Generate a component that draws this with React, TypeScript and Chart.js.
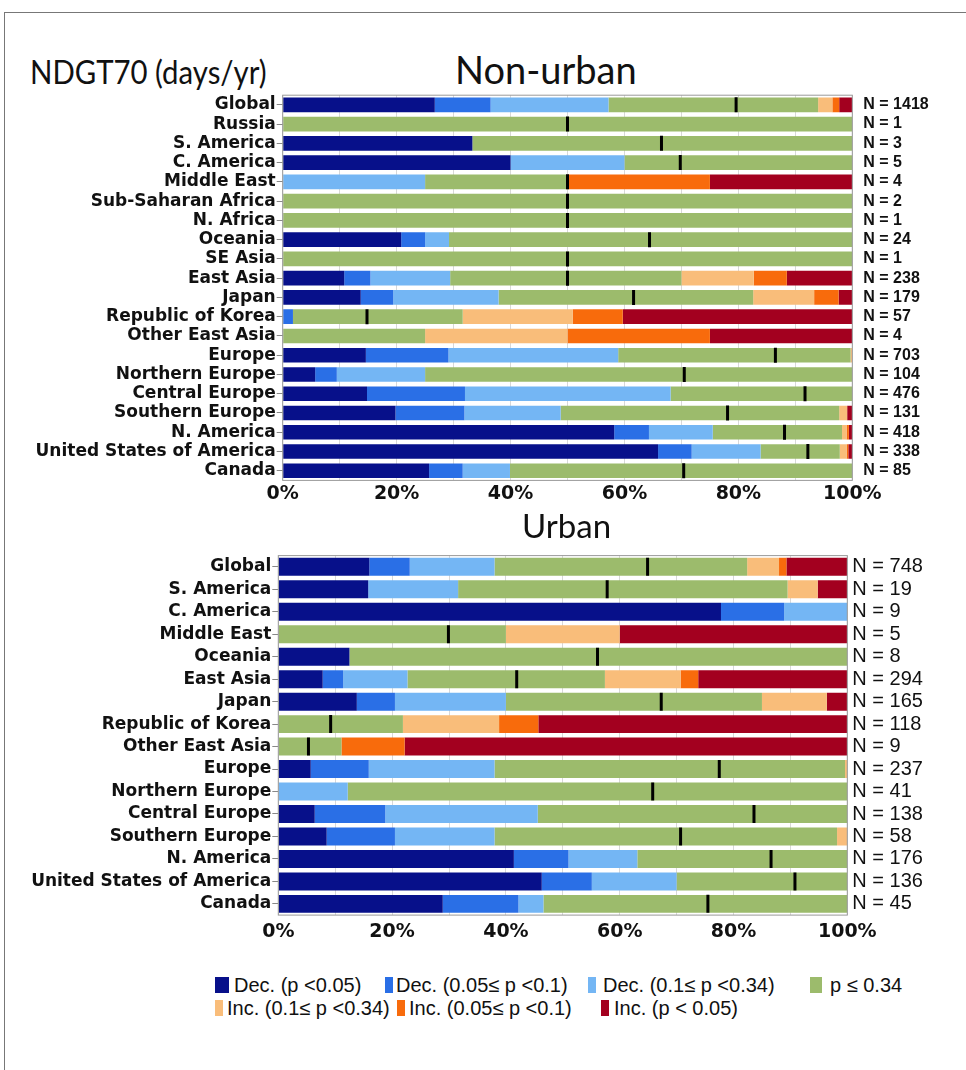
import React, { useEffect, useRef } from "react";
import { Chart, registerables } from "chart.js";

Chart.register(...registerables);

// ---------- shared ----------
const SERIES_LABELS = [
  "Dec. (p <0.05)",
  "Dec. (0.05≤ p <0.1)",
  "Dec. (0.1≤ p <0.34)",
  "p ≤ 0.34",
  "Inc. (0.1≤ p <0.34)",
  "Inc. (0.05≤ p <0.1)",
  "Inc. (p < 0.05)",
];
const COLORS = ["#07108a", "#2a6fe6", "#74b6f4", "#9cbb6c", "#f9bd7a", "#f86b0c", "#a3001f"];
const X_TICKS_STEP = 10;

// ---------- Non-urban ----------
const nonUrbanRegions = [
  "Global", "Russia", "S. America", "C. America", "Middle East", "Sub-Saharan Africa",
  "N. Africa", "Oceania", "SE Asia", "East Asia", "Japan", "Republic of Korea",
  "Other East Asia", "Europe", "Northern Europe", "Central Europe", "Southern Europe",
  "N. America", "United States of America", "Canada",
];
const nonUrbanN = [1418, 1, 3, 5, 4, 2, 1, 24, 1, 238, 179, 57, 4, 703, 104, 476, 131, 418, 338, 85];
const nonUrbanDecSig = [26.7, 0, 33.3, 40, 0, 0, 0, 20.8, 0, 10.8, 13.7, 0, 0, 14.6, 5.7, 14.8, 19.8, 58.2, 65.9, 25.7];
const nonUrbanDecMarg = [9.8, 0, 0, 0, 0, 0, 0, 4.2, 0, 4.6, 5.7, 1.8, 0, 14.5, 3.8, 17.2, 12.1, 6.1, 5.9, 5.9];
const nonUrbanDecWeak = [20.7, 0, 0, 20, 25, 0, 0, 4.2, 0, 14.0, 18.5, 0, 0, 29.8, 15.5, 36.1, 16.9, 11.2, 12.1, 8.3];
const nonUrbanNotSig = [36.8, 100, 66.7, 40, 25, 100, 100, 70.8, 100, 40.6, 44.7, 29.8, 25, 40.8, 75, 31.9, 48.9, 22.7, 13.9, 60.1];
const nonUrbanIncWeak = [2.5, 0, 0, 0, 0, 0, 0, 0, 0, 12.7, 10.7, 19.3, 25, 0.3, 0, 0, 1.4, 0.8, 1.2, 0];
const nonUrbanIncMarg = [1.2, 0, 0, 0, 25, 0, 0, 0, 0, 5.8, 4.3, 8.8, 25, 0, 0, 0, 0, 0.4, 0.3, 0];
const nonUrbanIncSig = [2.3, 0, 0, 0, 25, 0, 0, 0, 0, 11.5, 2.4, 40.3, 25, 0, 0, 0, 0.9, 0.6, 0.7, 0];
const nonUrbanMarker = [79.6, 50, 66.5, 69.8, 50, 50, 50, 64.4, 50, 50, 61.6, 14.8, null, 86.5, 70.5, 91.7, 78.1, 88.1, 92.2, 70.4];

// ---------- Urban ----------
const urbanRegions = [
  "Global", "S. America", "C. America", "Middle East", "Oceania", "East Asia", "Japan",
  "Republic of Korea", "Other East Asia", "Europe", "Northern Europe", "Central Europe",
  "Southern Europe", "N. America", "United States of America", "Canada",
];
const urbanN = [748, 19, 9, 5, 8, 294, 165, 118, 9, 237, 41, 138, 58, 176, 136, 45];
const urbanDecSig = [16.0, 15.8, 77.8, 0, 12.5, 7.8, 13.8, 0, 0, 5.7, 0, 6.4, 8.5, 41.4, 46.3, 28.9];
const urbanDecMarg = [7.1, 0, 11.1, 0, 0, 3.6, 6.7, 0, 0, 10.2, 0, 12.4, 12.0, 9.6, 8.8, 13.3];
const urbanDecWeak = [14.9, 15.8, 11.1, 0, 0, 11.3, 19.5, 0, 0, 22.1, 12.2, 26.8, 17.5, 12.1, 14.9, 4.4];
const urbanNotSig = [44.4, 57.9, 0, 40, 87.5, 34.7, 45.0, 21.9, 11.1, 61.6, 87.8, 54.4, 60.2, 36.9, 30.0, 53.4];
const urbanIncWeak = [5.6, 5.3, 0, 20, 0, 13.3, 11.4, 16.9, 0, 0.4, 0, 0, 1.8, 0, 0, 0];
const urbanIncMarg = [1.3, 0, 0, 0, 0, 3.1, 0, 6.9, 11.1, 0, 0, 0, 0, 0, 0, 0];
const urbanIncSig = [10.7, 5.2, 0, 40, 0, 26.2, 3.6, 54.3, 77.8, 0, 0, 0, 0, 0, 0, 0];
const urbanMarker = [64.9, 57.8, null, 29.9, 56.1, 41.9, 67.3, 9.2, 5.3, 77.5, 65.8, 83.6, 70.7, 86.6, 90.8, 75.5];

type Panel = {
  regions: string[];
  n: number[];
  series: number[][];
  marker: (number | null)[];
  canvasH: number;
  padTop: number;
  left: number;
  right: number;
  xAxisH: number;
  xPad: number;
  barPct: number;
  markerR: number;
  nFont: any;
  nPad: number;
};

const PAGE_W = 966;

const topPanel: Panel = {
  regions: nonUrbanRegions,
  n: nonUrbanN,
  series: [nonUrbanDecSig, nonUrbanDecMarg, nonUrbanDecWeak, nonUrbanNotSig, nonUrbanIncWeak, nonUrbanIncMarg, nonUrbanIncSig],
  marker: nonUrbanMarker,
  canvasH: 430,
  padTop: 15.2,
  left: 282.7,
  right: 852.3,
  xAxisH: 29.6,
  xPad: 2,
  barPct: 0.76,
  markerR: 7.5,
  nFont: { family: "'Liberation Sans', Arial, sans-serif", size: 16, weight: "bold" },
  nPad: 11,
};

const bottomPanel: Panel = {
  regions: urbanRegions,
  n: urbanN,
  series: [urbanDecSig, urbanDecMarg, urbanDecWeak, urbanNotSig, urbanIncWeak, urbanIncMarg, urbanIncSig],
  marker: urbanMarker,
  canvasH: 410,
  padTop: 15.6,
  left: 278.3,
  right: 847.3,
  xAxisH: 34.9,
  xPad: 6,
  barPct: 0.8,
  markerR: 9,
  nFont: { family: "'Liberation Sans', Arial, sans-serif", size: 20, weight: "normal" },
  nPad: 5,
};

const borderPlugin = {
  id: "areaBorder",
  afterDatasetsDraw(chart: any) {
    const { ctx, chartArea } = chart;
    ctx.save();
    ctx.strokeStyle = "#9a9a9a";
    ctx.lineWidth = 1;
    ctx.strokeRect(chartArea.left, chartArea.top, chartArea.right - chartArea.left, chartArea.bottom - chartArea.top);
    ctx.restore();
  },
};

const zeroPad = (s: any) => {
  s.paddingTop = 0;
  s.paddingBottom = 0;
  s.paddingLeft = 0;
  s.paddingRight = 0;
};

function buildConfig(p: Panel): any {
  const datasets: any[] = p.series.map((vals, i) => ({
    type: "bar",
    label: SERIES_LABELS[i],
    data: vals,
    backgroundColor: COLORS[i],
    borderWidth: 0,
    barPercentage: p.barPct,
    categoryPercentage: 1,
    xAxisID: "x",
    yAxisID: "y",
    stack: "trend",
    order: 2,
  }));
  datasets.push({
    type: "scatter",
    label: "median",
    data: p.marker
      .map((m, i) => (m == null ? null : { x: m, y: p.regions[i] }))
      .filter((d) => d !== null),
    pointStyle: "line",
    rotation: 90,
    radius: p.markerR,
    borderColor: "#000",
    backgroundColor: "#000",
    borderWidth: 3,
    xAxisID: "x",
    yAxisID: "y",
    stack: "marker",
    order: 0,
  });
  const labelFont = { family: "'DejaVu Sans', sans-serif", size: 17, weight: "bold" };
  return {
    type: "bar",
    data: { labels: p.regions, datasets },
    options: {
      indexAxis: "y",
      responsive: false,
      animation: false,
      devicePixelRatio: 1,
      layout: { padding: { top: p.padTop, left: 0, right: 0, bottom: 0 } },
      plugins: { legend: { display: false }, tooltip: { enabled: false }, title: { display: false } },
      scales: {
        x: {
          type: "linear",
          stacked: true,
          min: 0,
          max: 100,
          position: "bottom",
          border: { display: false },
          grid: { color: "#d8d8d8", lineWidth: 1, drawTicks: false },
          ticks: {
            stepSize: X_TICKS_STEP,
            autoSkip: false,
            maxRotation: 0,
            padding: p.xPad,
            color: "#111",
            font: { family: "'DejaVu Sans', sans-serif", size: 19, weight: "bold" },
            callback: (v: any) => (Number(v) % 20 === 0 ? v + "%" : ""),
          },
          afterFit: (s: any) => {
            s.height = p.xAxisH;
            zeroPad(s);
          },
        },
        y: {
          type: "category",
          stacked: true,
          position: "left",
          offset: true,
          border: { display: false },
          grid: { offset: false, drawOnChartArea: false, drawTicks: true, tickLength: 6, color: "#888" },
          ticks: { autoSkip: false, padding: 1, color: "#111", font: labelFont },
          afterFit: (s: any) => {
            s.width = p.left;
            zeroPad(s);
          },
        },
        y2: {
          type: "category",
          labels: p.n.map((v) => "N = " + v),
          position: "right",
          offset: true,
          border: { display: false },
          grid: { display: false, drawTicks: false, tickLength: 0 },
          ticks: { autoSkip: false, padding: p.nPad, color: "#111", font: p.nFont },
          afterFit: (s: any) => {
            s.width = PAGE_W - p.right;
            zeroPad(s);
          },
        },
      },
    },
    plugins: [borderPlugin],
  };
}

const legendRow1 = [0, 1, 2, 3];
const legendRow2 = [4, 5, 6];
const legendSwatchX = [215, 385, 588, 810, 215, 397, 601];
const legendSwatchW = [14, 8, 8, 12, 8, 8, 8];
const legendTextX = [234, 396, 603, 830, 227, 409, 614];

const titleStyle: any = {
  position: "absolute",
  fontFamily: "Lato, sans-serif",
  lineHeight: 1,
  whiteSpace: "nowrap",
  color: "#111",
};

export default function App() {
  const topRef = useRef<HTMLCanvasElement>(null);
  const botRef = useRef<HTMLCanvasElement>(null);

  useEffect(() => {
    const c1 = new Chart(topRef.current as HTMLCanvasElement, buildConfig(topPanel));
    const c2 = new Chart(botRef.current as HTMLCanvasElement, buildConfig(bottomPanel));
    return () => {
      c1.destroy();
      c2.destroy();
    };
  }, []);

  const legendItem = (i: number, rowTop: number) => (
    <React.Fragment key={i}>
      <div
        style={{
          position: "absolute",
          left: legendSwatchX[i],
          top: rowTop + 2,
          width: legendSwatchW[i],
          height: 16,
          background: COLORS[i],
        }}
      />
      <div
        style={{
          position: "absolute",
          left: legendTextX[i],
          top: rowTop,
          fontSize: 20,
          lineHeight: 1,
          whiteSpace: "nowrap",
          color: "#111",
        }}
      >
        {SERIES_LABELS[i]}
      </div>
    </React.Fragment>
  );

  return (
    <div
      style={{
        position: "absolute",
        left: 0,
        top: 0,
        width: PAGE_W,
        height: 1070,
        overflow: "hidden",
        background: "#fff",
        fontFamily: "'Liberation Sans', Arial, sans-serif",
      }}
    >
      <div style={{ position: "absolute", left: 4, top: 12, width: 1000, height: 1100, border: "1px solid #777" }} />
      <div style={{ ...titleStyle, left: 30, top: 55, fontSize: 33, transform: "scaleX(0.89)", transformOrigin: "left top" }}>
        NDGT70 (days/yr)
      </div>
      <div style={{ ...titleStyle, left: 455, top: 50, fontSize: 38 }}>Non-urban</div>
      <canvas
        ref={topRef}
        width={PAGE_W}
        height={topPanel.canvasH}
        style={{ position: "absolute", left: 0, top: 80, width: PAGE_W, height: topPanel.canvasH }}
      />
      <div style={{ ...titleStyle, left: 522, top: 509, fontSize: 33 }}>Urban</div>
      <canvas
        ref={botRef}
        width={PAGE_W}
        height={bottomPanel.canvasH}
        style={{ position: "absolute", left: 0, top: 540, width: PAGE_W, height: bottomPanel.canvasH }}
      />
      {legendRow1.map((i) => legendItem(i, 975))}
      {legendRow2.map((i) => legendItem(i, 998))}
    </div>
  );
}
